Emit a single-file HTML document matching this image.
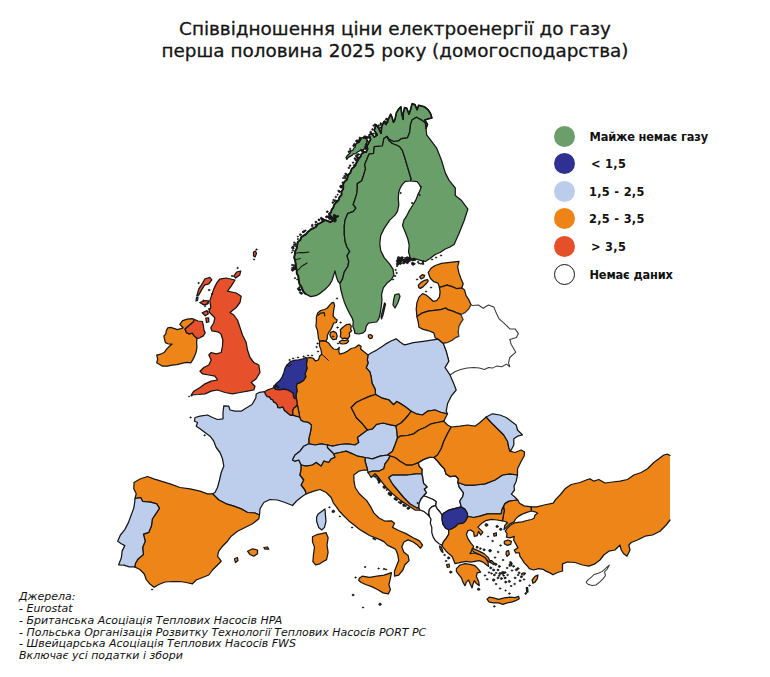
<!DOCTYPE html>
<html lang="uk">
<head>
<meta charset="utf-8">
<title>Співвідношення ціни електроенергії до газу</title>
<style>
html,body{margin:0;padding:0;background:#fff;}
body{width:770px;height:677px;position:relative;overflow:hidden;font-family:"DejaVu Sans","Liberation Sans",sans-serif;color:#111;}
#title{position:absolute;left:0;top:18px;-webkit-text-stroke:.3px #151515;width:790px;text-align:center;font-size:18.4px;line-height:22px;letter-spacing:0px;white-space:nowrap;color:#151515;}
#map{position:absolute;left:0;top:0;width:770px;height:677px;}
.lg{position:absolute;left:589.5px;margin-top:.6px;font-weight:bold;font-size:11.4px;letter-spacing:-.16px;line-height:14px;white-space:nowrap;color:#111;}
.dot{position:absolute;left:554px;width:21px;height:21px;border-radius:50%;box-sizing:border-box;}
#src{position:absolute;left:19px;top:591.3px;font-style:italic;font-size:10.97px;line-height:11.8px;white-space:nowrap;color:#111;}
</style>
</head>
<body>
<svg id="map" viewBox="0 0 770 677">
<!--MAP-->
<g stroke="#161616" stroke-width="1.25" stroke-linejoin="round" stroke-linecap="round">
<polygon points="670,455.5 667.5,454.2 663.8,455 658.8,458.8 653.8,462.5 647.5,468.8 641.2,472.5 633.8,475 627.5,479.5 620,481.2 612.5,482 605,483 598.8,479.5 593.8,481.2 590,478.8 587.5,479.5 580,482.5 571.2,484.5 565,488.8 560.5,494.5 555.9,499.1 553.2,503.2 544.1,505 536.8,506.8 531.4,506.8 531.4,511 535,511.8 537.7,513.2 535,515 534.1,518.2 531.4,519.5 526.8,520.5 522.3,521.8 517.7,522.3 514.8,522.8 510.3,525.3 506.8,528.8 505.3,531.2 507.1,533.6 506.4,537.1 510,537.9 514.3,536.4 513.6,540 515.7,543.6 517.9,547.9 514.3,550 515.7,552.9 519.3,552.9 520,556.4 522.1,559.3 524.3,562.9 527.1,565.7 529.3,568.6 533.6,570 538.6,568.6 542.9,569.3 546.4,571.4 550,572.9 553,574.8 557.5,572.5 562.5,571 562.5,563.8 567.5,562 575,562.5 582.5,565 588.8,566.2 595,563.8 600,560 603.8,555 608.8,551.2 615,550 620,545 621.2,550 623.8,553.8 627,556.2 630,550 628.8,545 631.2,542.5 637.5,540 645,536.2 652.5,535 660,531.2 666.2,525 670,520" fill="#ee8519" stroke="none"/>
<polygon points="366.9,139.3 364.5,138.1 361.9,137.5 360.5,140 359.3,142.2 356.5,143.4 355.5,145.1 355.2,147.1 353.8,148.3 352.8,150.2 350.7,151.3 349.9,153.3 348.4,154.5 347,155.9 346,157.6 346.8,159.4 348.3,157.4 350.1,156.4 352.1,155.4 353.6,153.9 355.9,153.6 357.4,152 359,151.2 360.7,150.5 362.4,150.2 364.2,148.8 366.6,148.8 366.4,146.7 366.4,144.8 366.7,143 367.4,141.2" fill="#6a9f69"/>
<polygon points="386.9,136.4 389.1,139.3 393.5,141.5 398.7,140.8 401.6,138.6 407.5,137.8 409.8,131.9 410.5,124.5 412,120.1 416.4,117.2 421.6,120.1 425.3,123.1 426,128.2 427.5,124.5 424.8,120 428.5,118.8 431.9,117.9 430.5,113.5 428.2,109.8 424.5,106.8 418.6,105.3 417.1,109.8 414.9,104.6 412,103.9 410.5,109.8 409,114.2 406.8,108.3 404.6,107.6 403.1,114.2 403.1,119.4 401.6,112.7 400.9,106.8 398.7,109 396.5,112.7 395,119.4 393.5,122.3 392,117.2 390.6,114.2 388.3,119.4 386.1,124.5 383.9,121.6 381.7,126.8 381,133.4 378.7,128.2 375.8,124.5 374.3,130.5 377.3,134.9 374.3,137.1 371.4,133.4 369.1,134.9 370.6,139.3 368.4,143.7 366.9,146 367.7,148.9 366.2,151.9 363.7,152.4 361.6,153.7 360.7,156.3 359,158.3 357.2,161.4 356,163.5 355.3,165.7 353.8,167.2 351.9,168.5 351,170.9 350.2,173.1 348.2,174.8 347.5,177.6 346.6,180.1 344.4,181.8 343.2,184.1 343.3,186.6 343.2,189 341.7,191 341.5,192.1 341.5,195 339.4,197.2 338.5,200.3 336.1,202.5 334.1,204.8 333.3,207.8 331.6,209.6 331.1,212.3 329,214 330.9,216.4 332.8,218.5 335.7,217.8 338.1,216.1 335.6,216.8 334.1,218.5 333.2,220.7 330.2,222.2 327.7,220.8 325,220.1 322.6,221.6 320.3,223 317.7,224.2 316.1,226.7 313.9,228 311.4,229 309.7,230.5 307.9,231.8 306.1,234.1 303.6,235.6 301.2,237.2 300.3,240.1 297.7,242 297.2,245.1 296.7,248.4 295.2,251.3 294.8,254.4 294.2,257.5 295.2,260.7 295.7,263.8 295.9,266.9 296.7,270 296.7,273.3 298.3,276.2 298.6,279.3 299.1,282.4 299.7,284.6 301.3,286.4 302,288.5 303.3,291.5 305.4,293.9 310.7,296.6 316,295.7 320.4,293.1 324.9,289.5 329.3,285.1 331.9,280.7 333.7,275.3 335,270.9 336.4,277.1 338.1,281.5 339.9,283.3 342.6,278.9 344.3,271.8 347.9,266.5 348.8,261.2 347,255.9 349.7,251.4 347,247 345.2,241.7 344.3,234.6 344.3,225.7 345.2,219.5 347.9,213.3 353.2,211.6 355.9,208 353.2,204.5 355,199.2 356.7,193.9 357.3,189 357.3,183.6 361.8,180.7 363.8,174.5 365.5,168.9 364.7,164.4 367,159 369.1,154.1 373.6,153.3 374.3,146.7 382.4,146 383.9,138.6 386.9,136.4" fill="#6a9f69"/>
<polygon points="339.9,283.3 340.8,289.5 342.6,296.6 344.5,302.5 346.6,307.5 349.7,313.7 352.3,318.4 353.3,322 352.8,326.2 354.4,330.3 354.9,333.4 359,334 363.2,332.9 365.3,330.8 366.3,326.2 368.4,323.1 372.5,322.5 376.7,322 378.8,318.9 380.3,312.7 381.4,305.4 382,300 381.5,294.8 383.3,287.8 386.8,283.3 391.2,279.8 393.9,275.3 393,269.1 389.5,263.8 384.2,257.6 380.7,250.5 379.8,243.5 380.7,235.5 384.2,228.4 389.5,220.4 395,215.1 397.5,211.2 398.8,205 398.3,198.5 398.7,192.5 400.2,188 402.4,184.4 405.3,181.4 410.5,181 411.2,179.2 409,171.8 406.8,164.4 404.6,157 402.4,150.4 399.5,146.5 396.5,145 392.5,143.5 389,140.5 386.9,136.4 383.9,138.6 382.4,146 374.3,146.7 373.6,153.3 369.1,154.1 367,159 364.7,164.4 365.5,168.9 363.8,174.5 361.8,180.7 357.3,183.6 357.3,189 356.7,193.9 355,199.2 353.2,204.5 355.9,208 353.2,211.6 347.9,213.3 345.2,219.5 344.3,225.7 344.3,234.6 345.2,241.7 347,247 349.7,251.4 347,255.9 348.8,261.2 347.9,266.5 344.3,271.8 342.6,278.9 339.9,283.3" fill="#6a9f69"/>
<polygon points="386.9,136.4 389,140.5 392.5,143.5 396.5,145 399.5,146.5 402.4,150.4 404.6,157 406.8,164.4 409,171.8 411.2,179.2 410.5,181 417.1,181.6 421.1,187 419.8,190.9 417.8,194.9 415.8,200.2 412.5,205.5 409.2,210.9 406.5,216.2 403.9,220.2 402.5,225.5 405.2,232.1 407.8,238.7 409.2,245.4 408.5,252 409.8,256 408.8,259.5 413.8,258.3 420.5,260.3 425.2,261.5 430,258.5 435.2,254.5 440,252.5 445.3,249 450,247 454.1,244.5 459.1,233.2 464.1,220.7 467.9,209 461.6,200.6 455.3,195.5 455.3,188 449.1,180.4 445.3,172.9 441.5,160.3 436.5,147.8 431.2,140.8 426.7,134.9 426,128.2 425.3,123.1 421.6,120.1 416.4,117.2 412,120.1 410.5,124.5 409.8,131.9 407.5,137.8 401.6,138.6 398.7,140.8 393.5,141.5 389.1,139.3 386.9,136.4" fill="#6a9f69"/>
<polygon points="439.4,287.3 438,283.1 433.8,281.7 430.3,278.2 428.2,272.5 431,268.3 435.2,265.5 441.5,263.4 449.9,262.3 459,261.3 457.6,266.9 459,273.2 461.1,278.9 463.2,283.8 461.8,288 456.9,288.7 452,286.6 447.1,285.2 442.2,286.6 439.4,287.3" fill="#ee8519"/>
<polygon points="416.9,316.5 416.2,309 416.9,302.7 419,297.1 422.5,293.6 426.1,295 430.3,298.5 433.1,301.3 436.6,300.6 439.4,297.1 440.1,292.2 439.4,287.3 442.2,286.6 447.1,285.2 452,286.6 456.9,288.7 461.8,288 464.6,290.1 466.1,295.7 468.9,299.9 471,304.8 468.9,309 465.4,312.5 461.1,314.6 457.6,313.2 452.7,311.1 447.8,309.7 445.7,308 440.8,309.7 434.5,310.4 428.2,311.1 421.8,313.2 416.9,316.5" fill="#ee8519"/>
<polygon points="416.9,316.5 418.3,322.4 419,327.3 423.2,329.4 428.9,330.8 433.8,332.9 435.2,337.8 438,339.2 443.2,343.4 447.1,342.7 452,340.6 455.5,337.8 459,336.4 458.3,332.2 459,326.6 461.1,322.4 463.2,319.6 461.8,316.8 461.1,314.6 457.6,313.2 452.7,311.1 447.8,309.7 445.7,308 440.8,309.7 434.5,310.4 428.2,311.1 421.8,313.2 416.9,316.5" fill="#ee8519"/>
<polygon points="471,304.8 472.6,305.6 478.5,305 483.2,308.3 488.5,305 493.8,307 496.5,313.6 499.1,318.9 504.5,323.6 509.8,328.9 515.1,328.9 518.4,333.6 516.4,337.6 509.8,339.5 511.1,344.2 515.8,352.2 509.8,357.5 508.5,362.8 509.8,366.8 506.5,364.1 501.8,366.8 496.5,366.1 492.5,368.1 488.5,367.5 484.5,369.5 479.2,368.1 473.9,367.5 467.2,368.1 460.6,369.5 455.3,371.5 450,375 445,367.5 448.8,361.2 446.2,351.2 443.2,343.4 447.1,342.7 452,340.6 455.5,337.8 459,336.4 458.3,332.2 459,326.6 461.1,322.4 463.2,319.6 461.8,316.8 461.1,314.6 465.4,312.5 468.9,309" fill="#ffffff" stroke="#3a3a3a" stroke-width="1.05"/>
<polygon points="368,355 371.5,352.7 376.7,350.1 381.4,346.9 385,344.4 391,341 396.2,338.8 400,342 402.5,343.8 405,344.8 413.4,342.7 423.2,341.3 433.1,339.9 438,339.2 443.2,343.4 446.2,351.2 448.8,361.2 445,367.5 450,375 453.8,383.8 456.2,390 451.2,396.2 447.5,403.8 446.2,411.2 447.5,413.8 441.2,412.5 435,410 427.5,411.2 422.5,415 416.2,413.8 411.2,411.2 405,406.5 400.9,403.9 396.8,401.5 393.6,404.7 388.7,399.8 382.2,398.2 375.6,394.5 375.1,389.1 371.9,382.9 371.4,378.2 369.9,371.9 366.2,367.8 368.1,363.1 367.3,360 368,355" fill="#bdcdec"/>
<polygon points="306.6,358.4 309.7,357.3 313.3,358.4 315.4,361 318.5,359.9 319.5,356.3 321.6,354.2 321.1,350.1 319.5,345.9 319.5,341.2 322.7,340.7 325.8,341.2 328.9,343.3 331,346.4 333.6,349 337.2,349.5 339.3,347.5 338.8,351.6 339.8,354.2 343.4,353.2 347.6,351.1 351.2,348.5 355.4,347.5 358.5,344.9 361.1,346.4 360.6,349 363.7,351.6 368,355 367.3,360 368.1,363.1 366.2,367.8 369.9,371.9 371.4,378.2 371.9,382.9 375.1,389.1 375.6,394.5 370,396.2 363.8,398.8 356.2,402.5 351.2,407.5 353.8,412.5 356.2,417.5 362.5,423.8 367.5,430 362.5,433.8 357.5,437.5 358.8,442.5 355,445 347.5,443.8 340,444.5 332.5,446.2 327.5,445 321.2,443.8 315,445 308.8,443.8 308.8,438.8 310.6,431.2 311.5,425 308,422.3 303.5,421.6 300.9,420.3 299.6,417.1 299.3,414.5 298.6,411.2 298,408 297.3,405 297,402.1 296.4,398.9 296,395 297,391 296.4,386.5 297,383.6 299.9,382.6 303.5,380.5 305.8,376.9 305.2,373.4 307,368.6 306.4,364.5 307,360.4 306.6,358.4" fill="#ee8519"/>
<polygon points="306.6,358.4 305.8,357.4 302.3,359.2 298.7,359.8 294,360.4 290.5,361.5 286.9,365.1 285.1,368 284,372.2 282.2,376.9 279.8,380.5 276.3,383.4 273.9,387.5 275.6,389.4 279.5,389.8 283.4,389.1 287.3,389.8 290.5,391.4 293.1,393.3 293.4,396.3 294.4,398.5 296.4,398.9 296,395 297,391 296.4,386.5 297,383.6 299.9,382.6 303.5,380.5 305.8,376.9 305.2,373.4 307,368.6 306.4,364.5 307,360.4 306.6,358.4" fill="#2f3394"/>
<polygon points="264.5,391.7 267.8,389.8 271.7,388.5 273.9,387.5 275.6,389.4 279.5,389.8 283.4,389.1 287.3,389.8 290.5,391.4 293.1,393.3 293.4,396.3 294.4,398.5 296.4,398.9 297,402.1 297.3,405 295.7,406.7 293.8,408.3 292.8,410.6 292.8,413.2 293.1,415.1 290.5,415.4 288.6,414.1 286.6,412.2 284.3,410.6 283.4,408.3 282.7,407 280.1,408 277.8,407.6 277.2,405 275.6,402.8 273.6,402.1 272.6,399.8 270.7,399.2 269.7,397.2 267.1,396.6 265.5,394.6 264.5,391.7" fill="#e6512b"/>
<polygon points="293.1,415.1 292.8,413.2 292.8,410.6 293.8,408.3 295.7,406.7 297.3,405 298,408 298.6,411.2 299.3,414.5 299.6,417.1 297.7,416.7 295.4,416.1 293.1,415.1" fill="#ee8519"/>
<polygon points="264.5,391.7 259.7,392.3 256.2,394 255.8,398 252,404.5 245,408.8 241.2,411.2 235,411.2 230,410 228.8,406.2 223.8,405.8 223,412.5 223,418.8 217.5,419.5 212.5,417.5 207.5,415 200,416.2 195,417.5 194.5,421.2 197.5,422.5 196.2,426.2 200,428.8 205,432.5 210,436.2 213.8,441.2 216.2,447.5 220,452.5 222.5,458.8 223.8,466.2 221.2,472.5 219.5,480 217.5,487.5 215,492.5 212.5,493.8 218.8,500 226.2,503.8 233.8,506.2 241.2,508.8 247.5,512.5 255,513 259.5,515 260,508.8 263.8,502.5 270,499.5 277.5,500 285,502.5 292.5,505.5 296.5,501 302.5,496.2 306.2,493.8 305,490 301.2,485 303.8,480 300,475 301.2,468.8 301.2,465 298.8,460 295,461.2 292.5,460 295,455 300,451.2 303.8,446.2 308.8,443.8 308.8,438.8 310.6,431.2 311.5,425 308,422.3 303.5,421.6 300.9,420.3 299.6,417.1 297.7,416.7 295.4,416.1 293.1,415.1 290.5,415.4 288.6,414.1 286.6,412.2 284.3,410.6 283.4,408.3 282.7,407 280.1,408 277.8,407.6 277.2,405 275.6,402.8 273.6,402.1 272.6,399.8 270.7,399.2 269.7,397.2 267.1,396.6 265.5,394.6 264.5,391.7" fill="#bdcdec"/>
<polygon points="318.3,513.9 323.9,509.7 325,509 325.4,514.9 326,521.2 324.5,527.4 321.8,529.9 318.7,527.4 316.6,521.2 316.6,517" fill="#bdcdec"/>
<polygon points="135,498.5 136.2,493.8 133.8,488.8 134,482.5 140,479 147.5,476.5 153.8,478.8 161.2,481.2 170,483.8 180,487.5 190,488.8 200,491.2 207.5,493.8 212.5,493.8 218.8,500 226.2,503.8 233.8,506.2 241.2,508.8 247.5,512.5 255,513 259.5,515 258.8,518.8 252.5,523.8 245,527.5 237.5,531.2 231.2,536.2 227.5,541.2 222.5,546.2 218.8,551.2 217.5,556.2 221.2,561.2 217.5,565 212.5,570 208.8,575 202.5,577.5 196.2,580 192.5,583.8 186.2,582.5 180,581.5 172.5,581.5 165,582 158.8,584.5 154.1,587.3 149.6,583.7 146.1,579.3 144.3,574 139.9,569.5 134.6,566.9 135.5,563.3 138.1,558.9 143.4,554.5 142.6,547.4 145.2,541.2 143.4,534.1 148.8,532.3 151.4,526.1 152.3,519 155.9,513.7 159.4,508.4 156.7,503.9 150.5,502.2 142.6,501.3 140.8,497.7 135,498.5" fill="#ee8519"/>
<polygon points="135,498.5 140.8,497.7 142.6,501.3 150.5,502.2 156.7,503.9 159.4,508.4 155.9,513.7 152.3,519 151.4,526.1 148.8,532.3 143.4,534.1 145.2,541.2 142.6,547.4 143.4,554.5 138.1,558.9 135.5,563.3 134.6,566.9 129.3,566.9 123.9,565.1 118.6,564.8 121.3,558 122.2,550.9 124.8,545.6 121.3,543.8 117.7,541.2 120.4,535 124.8,529.6 128.4,522.6 131,515.5 133.7,508.4 134.6,503 135,498.5" fill="#bdcdec"/>
<polygon points="308.8,443.8 303.8,446.2 300,451.2 295,455 292.5,460 295,461.2 298.8,460 301.2,465 306.2,466.2 312.5,465 316.2,462.5 321.2,466.2 323.8,461.2 328.8,462.5 331.2,458.8 335,457.5 333.8,453.8 330,450 327.5,447.5 327.5,445 321.2,443.8 315,445 308.8,443.8" fill="#bdcdec"/>
<polygon points="327.5,445 332.5,446.2 340,444.5 347.5,443.8 355,445 358.8,442.5 357.5,437.5 362.5,433.8 367.5,430 372.5,428.8 376.5,424.4 383,423 389.5,424.6 396,425.8 397,432.5 397.5,438 395,445 392.5,451.2 387.5,455 380,456.2 372.5,458.8 365,457.5 357.5,456.2 352.5,453.8 346.2,451.2 340,452.5 333.8,453.8 330,450 327.5,447.5 327.5,445" fill="#bdcdec"/>
<polygon points="367.5,430 362.5,423.8 356.2,417.5 353.8,412.5 351.2,407.5 356.2,402.5 363.8,398.8 370,396.2 375.6,394.5 382.2,398.2 388.7,399.8 393.6,404.7 396.8,401.5 400.9,403.9 405,406.5 411.2,411.2 408.5,415 405,419 401,423 396,425.8 389.5,424.6 383,423 376.5,424.4 372.5,428.8 367.5,430" fill="#ee8519"/>
<polygon points="396,425.8 401,423 405,419 408.5,415 411.2,411.2 416.2,413.8 422.5,415 427.5,411.2 435,410 441.2,412.5 447.5,413.8 445,418.8 443.8,421.2 437.5,422.5 431.2,423.8 425,427.5 418.8,430 413.8,433.8 407.5,435.5 400,436.2 397.5,438 397,432.5 396,425.8" fill="#ee8519"/>
<polygon points="397.5,438 400,436.2 407.5,435.5 413.8,433.8 418.8,430 425,427.5 431.2,423.8 437.5,422.5 443.8,421.2 447.5,425 451.2,427 447.5,433.8 443.8,441.2 441.2,448.8 437.5,455 434,457.5 429.5,457.4 423.6,459.6 418.5,462.6 412.5,465 406.2,465 400,461.2 395,457.5 390,456 387.5,455 392.5,451.2 395,445 397.5,438" fill="#ee8519"/>
<polygon points="365,457.5 372.5,458.8 380,456.2 387.5,455 390,456 388.8,458.8 385,463.8 383.8,468.8 378.8,471.2 372.5,471.2 368,472.5 367.5,470 366.2,465 365,461.2 365,457.5" fill="#bdcdec"/>
<polygon points="368,472.5 372.5,471.2 378.8,471.2 383.8,468.8 385,463.8 388.8,458.8 390,456 395,457.5 400,461.2 406.2,465 412.5,465 418.5,462.6 419.2,466.2 422.2,469.2 422,474 416.2,473.8 407.5,475 398.8,475 392.5,475 388.8,477.5 392.5,483.8 397.5,490 403.8,497.5 410,503.8 416.2,507.5 418.8,507.5 420,510 415,510 407.5,505 400,500 392.5,493.8 386.2,487.5 381.2,481.2 377.5,476.2 375,473.8 371.2,477.5 368,472.5" fill="#ee8519"/>
<polygon points="418.8,507.5 416.2,507.5 410,503.8 403.8,497.5 397.5,490 392.5,483.8 388.8,477.5 392.5,475 398.8,475 407.5,475 416.2,473.8 422,474 422.9,478 423.6,483.2 427.3,486.9 424.4,489.1 426.6,492.8 423.6,495.8 420.7,499.5 419.2,503.2 418.8,507.5" fill="#bdcdec"/>
<polygon points="418.5,462.6 423.6,459.6 429.5,457.4 434,457.5 437.5,461 441.2,465.5 444.5,469 446,474 450.2,476.6 455.4,475.8 458.3,478.8 458,482.5 459.1,486.9 463.5,492.8 462.8,496.5 459.8,501 461.3,506.9 455.4,508.3 449.5,509.8 444.3,512.8 442.1,515 439.9,512 436.9,508.3 435.5,505.4 436.2,501.7 433.2,499.5 429.5,498 425.8,496.5 423.6,495.8 426.6,492.8 424.4,489.1 427.3,486.9 423.6,483.2 422.9,478 422,474 422.2,469.2 419.2,466.2 418.5,462.6" fill="#ffffff"/>
<polygon points="418.8,507.5 419.2,503.2 420.7,499.5 423.6,495.8 425.8,496.5 429.5,498 433.2,499.5 436.2,501.7 435.5,505.4 431.8,506.9 429.5,509.1 428.8,512.8 429.5,516.5 427.3,514.3 423.6,511.3 420,510" fill="#ffffff"/>
<polygon points="429.5,516.5 428.8,512.8 429.5,509.1 431.8,506.9 435.5,505.4 436.9,508.3 439.9,512 442.1,515 442.1,519.4 442.8,523.9 445.8,528.3 448.7,529.8 448.7,534.2 446.5,537.9 443.6,541.6 442.1,545.3 439.1,543.8 435.5,540.8 433.2,537.1 431.8,532.7 431.8,527.5 430.3,523.1 431,519.4 429.5,516.5" fill="#ffffff"/>
<polygon points="442.1,515 444.3,512.8 449.5,509.8 455.4,508.3 461.3,506.9 465,509.1 467.2,512.8 467.9,516.5 465.7,520.9 463.5,523.1 458.3,523.9 455.4,526.8 451.7,529 448.7,529.8 445.8,528.3 442.8,523.9 442.1,519.4 442.1,515" fill="#2f3394"/>
<polygon points="461.3,506.9 459.8,501 462.8,496.5 463.5,492.8 459.1,486.9 458,482.5 465,485 475,485 485,483.8 495,480 502.5,475 510,473.8 517.5,475 516.2,481.2 514,486 514.5,490 511.4,494.1 514.5,496.8 517.7,500 513.2,500.5 508.6,501.4 505,503.6 503.6,506.4 502,509.5 501.2,513.8 495,513.8 487.5,513.8 480,516.2 473.8,517.5 467.9,516.5 467.2,512.8 465,509.1 461.3,506.9" fill="#bdcdec"/>
<polygon points="448.7,529.8 451.7,529 455.4,526.8 458.3,523.9 463.5,523.1 465.7,520.9 467.9,516.5 473.8,517.5 480,516.2 487.5,513.8 495,513.8 501.2,513.8 502,509.5 503.6,506.4 504.5,510.9 503.6,514.5 503.2,518.2 502.3,520.9 497.1,520 491.4,519.3 485.7,520.7 481.4,523.6 477.9,527.1 482.9,532.1 480.7,535 478.6,531.4 477.1,535.7 474.3,536.4 473.6,532.1 470.7,530 467.9,530.7 466.4,534.3 467.9,538.6 470.7,542.9 473.6,546.4 472.1,550 470,553.6 474.3,552.9 478.6,554.3 482.9,555.7 485.7,557.9 487.9,562.1 488.6,566.4 485.7,564.3 482.9,562.1 479.3,560.7 475,561.4 470.7,562.1 466.4,561.4 462.1,562.1 458.6,562.9 455,563.6 453.6,560 452.1,556.4 448.6,553.6 445.7,550.7 442.9,547.1 442.1,545.3 443.6,541.6 446.5,537.9 448.7,534.2 448.7,529.8" fill="#ee8519"/>
<polygon points="456.4,568.6 460,565 465,563.6 470,564.3 475,565.7 477.9,568.6 480.7,572.1 477.1,572.9 476.4,576.4 478.6,581.4 479.3,585.7 476.4,583.6 474.3,580.7 472.9,584.3 472.1,587.9 470,583.6 468.6,580 466.4,582.1 465,585.7 462.9,582.1 461.4,577.9 458.6,574.3 456.4,571.4" fill="#ee8519"/>
<polygon points="472.5,548.3 478,550.6 484,553.6 488.3,557.6 490.6,562.6 488.6,562 485.3,557.8 480,554.8 474.5,552.3 471.8,550.3" fill="#ee8519"/>
<polygon points="487.1,599.3 489.3,597.1 493.6,597.9 498.6,599.3 504.3,597.9 510,597.1 515,597.6 518.6,596.4 519.3,598.6 515.7,600.7 511.4,602.1 507.1,602.9 502.9,604.3 498.6,602.9 493.6,602.9 489.3,602.1" fill="#ee8519"/>
<polygon points="532.1,580 535,576.4 537.9,575 537.4,578.6 535,582.1 532.9,583.3" fill="#ee8519"/>
<polygon points="503.6,506.4 505,503.6 508.6,501.4 513.2,500.5 517.7,500 519.5,503.2 524.1,505.9 531.4,506.8 531.4,511 526.8,512.3 522.3,514.1 518.2,516.4 515.5,519.1 514.3,521.6 509.5,524.1 505.9,527.6 504,529.5 504.8,525.5 507.5,522.5 505,521.5 502.3,520.9 503.2,518.2 503.6,514.5 504.5,510.9 503.6,506.4" fill="#ee8519"/>
<polygon points="586.3,581.9 588.3,579.6 591.4,577.2 594.1,574.5 598.4,573.3 602.3,571.4 606.2,567.9 609.3,565.1 607.3,569 604.6,571.8 605.4,575.7 603.4,578.4 599.9,581.9 596,585 592.1,585.4 588.6,584.6 586.7,583.1" fill="#ffffff" stroke="#3a3a3a" stroke-width="1.05"/>
<polygon points="434,457.5 437.5,455 441.2,448.8 443.8,441.2 447.5,433.8 451.2,427 460,426.2 467.5,425 475,426.2 480,422.5 486.2,417 491.2,422.5 497.5,428.8 503.8,435 507.5,441.2 508.8,447.5 510,451.2 515,452.5 521.2,450 524.5,452 524.2,456 521.2,461.2 517.5,468.8 517.5,475 510,473.8 502.5,475 495,480 485,483.8 475,485 465,485 458,482.5 458.3,478.8 455.4,475.8 450.2,476.6 446,474 444.5,469 441.2,465.5 437.5,461 434,457.5" fill="#ee8519"/>
<polygon points="486.2,417 491.2,422.5 497.5,428.8 503.8,435 507.5,441.2 508.8,447.5 510,451.2 511.2,450 513.8,445 513.8,438.8 517.5,436.2 522.5,435 517.5,430 516.2,425 511.2,421.2 506.2,417.5 500,415 492.5,413.8" fill="#bdcdec"/>
<polygon points="306.2,493.8 313.8,491.2 320,489.5 326.2,492.5 331.2,497.5 333.3,502.8 336.4,506.8 339.5,511.3 343.7,515.7 348.9,520.9 354.1,525.1 359.3,529.2 364.5,532.4 369.6,535.5 374.8,537.6 380,539.6 384.2,541.9 387.3,545.1 391.4,547.1 395.6,549.2 397.7,554.4 398.7,560.6 396.6,565.8 394.5,571 394.5,576.2 398.7,575.2 402.9,570 404.9,564.8 409.1,560.6 408.1,555.5 403.9,552.3 401.8,547.1 403.9,542 408.1,539.9 413.2,542 417.4,545.1 420.5,548.2 422.6,545.1 419.5,540.9 413.2,537.8 406,533.6 398.7,530.5 392.5,527.4 394.5,523.2 391.4,520.8 385.2,521.2 379,518 373.8,512.9 370.6,506.6 366.5,500.4 359.5,494 355.2,487.5 354,481.2 353.8,475 358.8,471.2 363.8,470 367.5,470 366.2,465 365,461.2 365,457.5 357.5,456.2 352.5,453.8 346.2,451.2 340,452.5 333.8,453.8 335,457.5 331.2,458.8 328.8,462.5 323.8,461.2 321.2,466.2 316.2,462.5 312.5,465 306.2,466.2 301.2,465 301.2,468.8 300,475 303.8,480 301.2,485 305,490 306.2,493.8" fill="#ee8519"/>
<polygon points="359.2,578.3 362.3,576.2 369.6,577.3 376.9,576.2 384.2,575.2 391.4,572.7 390.4,578.3 388.9,584.5 390.4,589.7 388.3,593.9 383.1,592.9 377.9,589.7 371.7,586.6 365.5,584.5 361.3,582.5 358.8,580.4" fill="#ee8519"/>
<polygon points="312.5,536.8 316.6,534.7 321.8,533.6 326,532.6 328.1,537.8 327,545.1 328.1,552.3 326.6,559.6 322.9,561.7 319.7,563.8 315.6,564.8 312.9,561.7 313.5,554.4 314.5,547.1 312.5,541.9" fill="#ee8519"/>
<polygon points="325.8,341.2 327.3,338.6 327.3,335.5 328.9,331.9 331,329.3 332.5,326.2 333.6,323.1 336.2,322.5 337.2,319.9 335.1,318.4 333.1,315.8 333.6,310.6 334.6,305.4 333.6,302.3 332,302.8 329.9,304.9 327.3,308 324.7,309.5 320.6,310.6 317.5,313.2 316.4,317.3 316.4,321.5 315.9,326.2 317.5,330.3 318,334.5 318.5,338.6 319.5,341.2 322.7,340.7" fill="#ee8519"/>
<polygon points="330.5,332.4 333.6,331.4 336.2,332.9 337.2,336 336.2,339.2 333.1,339.7 331,337.6 329.9,335" fill="#ee8519"/>
<polygon points="340.3,329.8 342.9,327.2 346.6,324.6 349.7,324.1 351.2,326.2 350.7,329.3 351.8,330.8 349.2,332.9 349.7,336 348.1,338.6 345,338.1 342.4,338.6 340.3,336.6 340.8,333.4" fill="#ee8519"/>
<polygon points="339.3,341.8 341.9,340.2 345,340.7 347.6,339.7 348.6,341.2 346.6,343.3 343.4,344 340.3,343.6" fill="#ee8519"/>
<polygon points="368.4,335 370.5,334.5 372.5,336 372,338.1 369.9,338.6 368.4,337.1" fill="#ee8519"/>
<polygon points="395,294.5 398.8,293.8 400,296.2 398,302.5 395,308 393,305 393.8,298.8" fill="#6a9f69"/>
<polygon points="384.5,303 385.5,304 383,315 381.5,319 381,316.5 383,309" fill="#6a9f69"/>
<polygon points="418.3,285.2 421.1,282.4 424.6,280.3 427.5,279.6 428.2,281 426.1,283.8 423.2,286.6 420.4,288.4 418.8,287.6" fill="#ee8519"/>
<polygon points="419.7,276.8 422.5,274.6 424.6,275.4 423.9,277.5 421.1,278.9" fill="#ee8519"/>
<polygon points="221.2,278.8 226.2,278 235,280 231.2,286.2 227.5,291.2 236.2,293 241.2,296.2 240,302.5 236.2,307.5 230,312.5 233.8,315 237.5,320 240,327.5 242.5,335 246.2,342.5 247.5,350 250,357.5 253.8,362.5 258.8,365 260,372.5 256.2,378.8 251.2,382.5 255,386.2 253.8,390 247.5,391.2 240,392.5 232.5,393.8 225,392.5 217.5,390 211.2,391.2 205,393.8 198.8,394.5 191.2,395 193.8,391.2 200,387.5 205,383.8 211.2,381.2 217.5,380 215,376.2 208.8,375 202.5,373.8 200,371.2 203.8,367.5 208.8,365 211.2,360 208.8,355 211.2,352.5 216.2,353.8 221.2,352.5 222.5,346.2 222.8,339.7 220.8,333.8 217.8,331.8 211.8,330.8 210.8,327.8 213.8,322.8 214.8,317.8 211.8,314.8 208.8,311.8 210.8,306.9 209.8,300.9 211.8,294.9 213.8,288.9 216.8,282.9 219.8,279" fill="#e6512b"/>
<polygon points="209.8,277.4 211.8,279.9 208.8,283.9 204.8,284.9 202.2,288.9 198.8,294.9 196.8,295.9 198.8,288.9 202.8,282.9 204.8,279" fill="#e6512b"/>
<polygon points="196.5,297.5 198,297 197.5,300.5 196,301" fill="#e6512b"/>
<polygon points="199.8,302.5 204.8,300.5 208.6,300.9 207.8,303.9 203.8,304.9" fill="#e6512b"/>
<polygon points="202.2,312.8 207,310.6 208.3,313.8 205.3,315.8" fill="#e6512b"/>
<polygon points="205.8,318 208.6,317.8 208.8,321.8 206.5,322.3" fill="#e6512b"/>
<polygon points="233.7,276 236.7,272 240.7,271 239.7,275 235.7,278" fill="#e6512b"/>
<polygon points="253.5,252 255.5,251 256.5,253.5 255,257 253.5,256" fill="#e6512b"/>
<polygon points="193.2,322 190.3,324.4 187,327.3 185,329.2 186.5,332.6 189.4,334 192.2,333 194.2,335.9 197,338.3 196.6,342.6 197,347.4 196.1,352.2 194.6,356.1 192.7,359.9 190.8,362.8 186.5,362.3 181.7,363.3 176.9,364.7 172.1,365.2 167.3,366.2 162.5,366.2 160.1,364.7 156.7,362.8 157.7,359 156.7,355.1 160.6,354.2 164.4,352.2 166.8,348.9 169.2,346.5 172.1,344.1 168,343.8 165.4,342.6 164.4,338.8 163.9,335.9 165.8,334 166.3,330.6 167.8,327.8 170.6,327.3 174.5,328.7 177.4,329.7 180.7,328.7 183.1,327.8 181.2,325.8 179.8,324.4 182.6,320.6 187.4,319.1 192.2,318.6 194.5,319.5 193.2,322" fill="#ee8519"/>
<polygon points="197,338.3 194.2,335.9 192.2,333 189.4,334 186.5,332.6 185,329.2 187,327.3 190.3,324.4 193.2,322 194.5,319.5 198,321 202.3,321.5 203.3,325.4 203.8,329.2 205.2,333 203.3,335.9 199.9,337.8" fill="#e6512b"/>
<polygon points="504.3,541.4 507.9,540 511.4,541.4 510.7,544.3 507.1,545.3 504.3,543.6" fill="#ee8519"/>
<polygon points="506.4,551.4 508.6,550.7 509.3,554.3 507.1,556.4 506,553.9" fill="#ee8519"/>
<polygon points="509.3,564.3 512.1,563.3 511.4,565.7 509.3,566.1" fill="#ee8519"/>
<polygon points="493.6,533.6 496.4,532.9 496.4,535.7 494,536.1" fill="#ee8519"/>
<polygon points="439.5,546 441,546.5 442.5,550 443,552.5 441.5,551.5 440,548.5" fill="#ee8519"/>
<polygon points="446.5,564.5 449,564 449.5,567 447.5,567.5" fill="#ee8519"/>
<polygon points="489.8,560.5 491.5,560.5 494.5,563.5 493.5,564.5 491,562.8" fill="#ee8519"/>
<polygon points="526.3,587.5 527.6,587.5 528,592 526.8,592.3" fill="#ee8519"/>
<polygon points="521.5,573.8 523.5,572.8 525.5,573.3 524,574.8 522,575" fill="#ee8519"/>
<polygon points="247.5,551.2 252.5,548.8 257.5,550 257.5,553.8 253.8,556.2 250,554.5" fill="#ee8519"/>
<polygon points="263.8,547.5 267.5,547 268.8,549.2 265,549.2" fill="#ee8519"/>
<polygon points="234.5,558.8 237.5,557.5 238,560.5 235.5,562.5" fill="#ee8519"/>
<polyline points="670,455.5 667.5,454.2 663.8,455 658.8,458.8 653.8,462.5 647.5,468.8 641.2,472.5 633.8,475 627.5,479.5 620,481.2 612.5,482 605,483 598.8,479.5 593.8,481.2 590,478.8 587.5,479.5 580,482.5 571.2,484.5 565,488.8 560.5,494.5 555.9,499.1 553.2,503.2 544.1,505 536.8,506.8 531.4,506.8 531.4,511 535,511.8 537.7,513.2 535,515 534.1,518.2 531.4,519.5 526.8,520.5 522.3,521.8 517.7,522.3 514.8,522.8 510.3,525.3 506.8,528.8 505.3,531.2 507.1,533.6 506.4,537.1 510,537.9 514.3,536.4 513.6,540 515.7,543.6 517.9,547.9 514.3,550 515.7,552.9 519.3,552.9 520,556.4 522.1,559.3 524.3,562.9 527.1,565.7 529.3,568.6 533.6,570 538.6,568.6 542.9,569.3 546.4,571.4 550,572.9 553,574.8 557.5,572.5 562.5,571 562.5,563.8 567.5,562 575,562.5 582.5,565 588.8,566.2 595,563.8 600,560 603.8,555 608.8,551.2 615,550 620,545 621.2,550 623.8,553.8 627,556.2 630,550 628.8,545 631.2,542.5 637.5,540 645,536.2 652.5,535 660,531.2 666.2,525 670,520" fill="none"/>
<circle cx="486.4" cy="525" r="1.485" fill="#222" stroke-width="0.6"/>
<circle cx="497.1" cy="526.4" r="1.215" fill="#222" stroke-width="0.6"/>
<circle cx="500.7" cy="529.3" r="1.215" fill="#222" stroke-width="0.6"/>
<circle cx="490" cy="550.7" r="1.35" fill="#222" stroke-width="0.6"/>
<circle cx="495.7" cy="564.3" r="1.215" fill="#222" stroke-width="0.6"/>
<circle cx="499.3" cy="566.4" r="1.08" fill="#222" stroke-width="0.6"/>
<circle cx="490.7" cy="567.9" r="1.08" fill="#222" stroke-width="0.6"/>
<circle cx="493.6" cy="570" r="1.08" fill="#222" stroke-width="0.6"/>
<circle cx="497.9" cy="570" r="0.945" fill="#222" stroke-width="0.6"/>
<circle cx="502.9" cy="572.9" r="1.62" fill="#222" stroke-width="0.6"/>
<circle cx="500" cy="573.6" r="1.215" fill="#222" stroke-width="0.6"/>
<circle cx="505" cy="572.5" r="0.945" fill="#222" stroke-width="0.6"/>
<circle cx="494.3" cy="575" r="0.945" fill="#222" stroke-width="0.6"/>
<circle cx="493.6" cy="580" r="1.215" fill="#222" stroke-width="0.6"/>
<circle cx="497.9" cy="577.9" r="0.945" fill="#222" stroke-width="0.6"/>
<circle cx="501.4" cy="578.6" r="1.08" fill="#222" stroke-width="0.6"/>
<circle cx="505" cy="577.9" r="1.08" fill="#222" stroke-width="0.6"/>
<circle cx="505.7" cy="582.1" r="1.08" fill="#222" stroke-width="0.6"/>
<circle cx="509.3" cy="581.4" r="1.08" fill="#222" stroke-width="0.6"/>
<circle cx="515" cy="577.9" r="0.945" fill="#222" stroke-width="0.6"/>
<circle cx="517.9" cy="568.6" r="1.08" fill="#222" stroke-width="0.6"/>
<circle cx="520" cy="580.7" r="0.945" fill="#222" stroke-width="0.6"/>
<circle cx="525.7" cy="593.5" r="0.945" fill="#222" stroke-width="0.6"/>
<circle cx="509.3" cy="593.6" r="0.81" fill="#222" stroke-width="0.6"/>
<circle cx="487.1" cy="579.3" r="0.81" fill="#222" stroke-width="0.6"/>
<circle cx="478.6" cy="589.3" r="1.215" fill="#222" stroke-width="0.6"/>
<circle cx="494.3" cy="606.4" r="0.81" fill="#222" stroke-width="0.6"/>
<circle cx="499" cy="575.8" r="0.81" fill="#222" stroke-width="0.6"/>
<circle cx="503.5" cy="575.5" r="0.81" fill="#222" stroke-width="0.6"/>
<circle cx="496" cy="573" r="0.81" fill="#222" stroke-width="0.6"/>
<circle cx="491.5" cy="573.5" r="0.81" fill="#222" stroke-width="0.6"/>
<circle cx="507.5" cy="575" r="0.81" fill="#222" stroke-width="0.6"/>
<circle cx="512" cy="570.5" r="0.81" fill="#222" stroke-width="0.6"/>
<circle cx="514.5" cy="584" r="0.81" fill="#222" stroke-width="0.6"/>
<circle cx="518" cy="575" r="0.81" fill="#222" stroke-width="0.6"/>
<circle cx="448.6" cy="557.9" r="1.215" fill="#222" stroke-width="0.6"/>
<circle cx="450.7" cy="572.1" r="1.215" fill="#222" stroke-width="0.6"/>
<circle cx="444.5" cy="555" r="0.81" fill="#222" stroke-width="0.6"/>
<circle cx="446" cy="561" r="0.81" fill="#222" stroke-width="0.6"/>
<circle cx="380" cy="604.3" r="1.215" fill="#222" stroke-width="0.6"/>
<circle cx="353" cy="595" r="0.945" fill="#222" stroke-width="0.6"/>
<circle cx="333.3" cy="511.4" r="1.35" fill="#222" stroke-width="0.6"/>
<circle cx="329.3" cy="507.3" r="0.675" fill="#222" stroke-width="0.6"/>
<circle cx="339.8" cy="516.4" r="0.675" fill="#222" stroke-width="0.6"/>
<circle cx="352" cy="527.5" r="0.675" fill="#222" stroke-width="0.6"/>
<circle cx="373.5" cy="538.5" r="0.81" fill="#222" stroke-width="0.6"/>
<circle cx="375" cy="539.5" r="0.675" fill="#222" stroke-width="0.6"/>
<circle cx="365" cy="567" r="0.675" fill="#222" stroke-width="0.6"/>
<circle cx="378.5" cy="568.5" r="0.675" fill="#222" stroke-width="0.6"/>
<circle cx="384" cy="569" r="0.81" fill="#222" stroke-width="0.6"/>
<circle cx="386" cy="569.5" r="0.675" fill="#222" stroke-width="0.6"/>
<circle cx="355.5" cy="577.5" r="0.675" fill="#222" stroke-width="0.6"/>
<circle cx="363" cy="607.5" r="0.675" fill="#222" stroke-width="0.6"/>
<circle cx="417.5" cy="503" r="0.675" fill="#222" stroke-width="0.6"/>
<circle cx="330.1" cy="217.8" r="1.0395" fill="#222" stroke-width="0.6"/>
<circle cx="294.8" cy="267.9" r="0.5535" fill="#222" stroke-width="0.6"/>
<circle cx="294" cy="265.7" r="1.08" fill="#222" stroke-width="0.6"/>
<circle cx="293.3" cy="267.6" r="0.756" fill="#222" stroke-width="0.6"/>
<circle cx="341.4" cy="187.1" r="1.0395" fill="#222" stroke-width="0.6"/>
<circle cx="302.7" cy="232.1" r="0.5805" fill="#222" stroke-width="0.6"/>
<circle cx="357.8" cy="158.6" r="1.0125" fill="#222" stroke-width="0.6"/>
<circle cx="292.2" cy="268.1" r="0.756" fill="#222" stroke-width="0.6"/>
<circle cx="293.2" cy="246.6" r="0.783" fill="#222" stroke-width="0.6"/>
<circle cx="342.1" cy="185.6" r="0.6075" fill="#222" stroke-width="0.6"/>
<circle cx="332.8" cy="202.6" r="0.9585" fill="#222" stroke-width="0.6"/>
<circle cx="329.2" cy="217.9" r="0.8505" fill="#222" stroke-width="0.6"/>
<circle cx="301.5" cy="293.4" r="1.026" fill="#222" stroke-width="0.6"/>
<circle cx="356.1" cy="155.9" r="0.9045" fill="#222" stroke-width="0.6"/>
<circle cx="339.6" cy="191.6" r="0.837" fill="#222" stroke-width="0.6"/>
<circle cx="347" cy="175.4" r="0.9855" fill="#222" stroke-width="0.6"/>
<circle cx="335.8" cy="216.5" r="0.999" fill="#222" stroke-width="0.6"/>
<circle cx="292.1" cy="264.9" r="0.756" fill="#222" stroke-width="0.6"/>
<circle cx="340.9" cy="185.9" r="0.7695" fill="#222" stroke-width="0.6"/>
<circle cx="345" cy="176.2" r="0.567" fill="#222" stroke-width="0.6"/>
<circle cx="315.5" cy="221.9" r="0.6885" fill="#222" stroke-width="0.6"/>
<circle cx="331.1" cy="219.8" r="0.5805" fill="#222" stroke-width="0.6"/>
<circle cx="300.4" cy="289.8" r="0.756" fill="#222" stroke-width="0.6"/>
<circle cx="334.2" cy="219.3" r="1.0125" fill="#222" stroke-width="0.6"/>
<circle cx="322.4" cy="220" r="0.999" fill="#222" stroke-width="0.6"/>
<circle cx="304.2" cy="231.4" r="0.891" fill="#222" stroke-width="0.6"/>
<circle cx="345.5" cy="173.8" r="0.81" fill="#222" stroke-width="0.6"/>
<circle cx="293" cy="248.2" r="1.0395" fill="#222" stroke-width="0.6"/>
<circle cx="293" cy="250.5" r="0.837" fill="#222" stroke-width="0.6"/>
<circle cx="360.9" cy="149.9" r="0.7155" fill="#222" stroke-width="0.6"/>
<circle cx="303.3" cy="231.7" r="0.567" fill="#222" stroke-width="0.6"/>
<circle cx="316.3" cy="222.2" r="0.729" fill="#222" stroke-width="0.6"/>
<circle cx="333.8" cy="218.8" r="0.567" fill="#222" stroke-width="0.6"/>
<circle cx="357.9" cy="157.4" r="0.783" fill="#222" stroke-width="0.6"/>
<circle cx="323.2" cy="219.4" r="0.945" fill="#222" stroke-width="0.6"/>
<circle cx="335.4" cy="219.9" r="0.9585" fill="#222" stroke-width="0.6"/>
<circle cx="356.7" cy="156.9" r="0.6075" fill="#222" stroke-width="0.6"/>
<circle cx="294.9" cy="278.1" r="0.675" fill="#222" stroke-width="0.6"/>
<circle cx="337.5" cy="194.7" r="0.594" fill="#222" stroke-width="0.6"/>
<circle cx="319" cy="220.2" r="0.6615" fill="#222" stroke-width="0.6"/>
<circle cx="338.4" cy="190.8" r="0.6615" fill="#222" stroke-width="0.6"/>
<circle cx="291.8" cy="252.6" r="0.5535" fill="#222" stroke-width="0.6"/>
<circle cx="335.7" cy="197" r="0.8505" fill="#222" stroke-width="0.6"/>
<circle cx="333.8" cy="215.2" r="0.5805" fill="#222" stroke-width="0.6"/>
<circle cx="312.1" cy="226.1" r="0.8235" fill="#222" stroke-width="0.6"/>
<circle cx="333.7" cy="216.2" r="0.702" fill="#222" stroke-width="0.6"/>
<circle cx="297.8" cy="239" r="0.648" fill="#222" stroke-width="0.6"/>
<circle cx="292.6" cy="270.2" r="1.0665" fill="#222" stroke-width="0.6"/>
<circle cx="292.4" cy="247.5" r="0.9315" fill="#222" stroke-width="0.6"/>
<circle cx="354.9" cy="158.5" r="0.9045" fill="#222" stroke-width="0.6"/>
<circle cx="299.1" cy="289.5" r="1.026" fill="#222" stroke-width="0.6"/>
<circle cx="350.1" cy="165.3" r="0.6075" fill="#222" stroke-width="0.6"/>
<circle cx="326.4" cy="216.9" r="0.918" fill="#222" stroke-width="0.6"/>
<circle cx="333.5" cy="200" r="0.8505" fill="#222" stroke-width="0.6"/>
<circle cx="363.4" cy="151.6" r="0.81" fill="#222" stroke-width="0.6"/>
<circle cx="329.5" cy="218.8" r="0.7695" fill="#222" stroke-width="0.6"/>
<circle cx="345.1" cy="178.1" r="0.999" fill="#222" stroke-width="0.6"/>
<circle cx="295" cy="269" r="0.6615" fill="#222" stroke-width="0.6"/>
<circle cx="343.1" cy="178" r="0.6345" fill="#222" stroke-width="0.6"/>
<circle cx="331.2" cy="218.2" r="0.9855" fill="#222" stroke-width="0.6"/>
<circle cx="362.8" cy="150.4" r="0.756" fill="#222" stroke-width="0.6"/>
<circle cx="334.7" cy="215.2" r="0.8235" fill="#222" stroke-width="0.6"/>
<circle cx="353.2" cy="162.4" r="0.54" fill="#222" stroke-width="0.6"/>
<circle cx="354.9" cy="164.5" r="0.567" fill="#222" stroke-width="0.6"/>
<circle cx="292.8" cy="270.4" r="0.5805" fill="#222" stroke-width="0.6"/>
<circle cx="297.1" cy="279.5" r="0.5805" fill="#222" stroke-width="0.6"/>
<circle cx="303.3" cy="231.9" r="0.729" fill="#222" stroke-width="0.6"/>
<circle cx="334.4" cy="201.3" r="0.6075" fill="#222" stroke-width="0.6"/>
<circle cx="362" cy="151.4" r="0.5805" fill="#222" stroke-width="0.6"/>
<circle cx="339.2" cy="191.5" r="0.891" fill="#222" stroke-width="0.6"/>
<circle cx="300.2" cy="292.6" r="0.8775" fill="#222" stroke-width="0.6"/>
<circle cx="294.3" cy="244.7" r="0.945" fill="#222" stroke-width="0.6"/>
<circle cx="321.3" cy="218.7" r="0.783" fill="#222" stroke-width="0.6"/>
<circle cx="328.5" cy="216.4" r="0.864" fill="#222" stroke-width="0.6"/>
<circle cx="295.5" cy="246.1" r="0.5535" fill="#222" stroke-width="0.6"/>
<circle cx="321.2" cy="218.1" r="0.972" fill="#222" stroke-width="0.6"/>
<circle cx="334.8" cy="221.2" r="1.053" fill="#222" stroke-width="0.6"/>
<circle cx="298.3" cy="288.6" r="0.9315" fill="#222" stroke-width="0.6"/>
<circle cx="299.7" cy="290.8" r="0.54" fill="#222" stroke-width="0.6"/>
<circle cx="340.7" cy="186.9" r="0.8235" fill="#222" stroke-width="0.6"/>
<circle cx="346.8" cy="174.9" r="0.9855" fill="#222" stroke-width="0.6"/>
<circle cx="315.7" cy="224.8" r="0.999" fill="#222" stroke-width="0.6"/>
<circle cx="292.3" cy="269.6" r="0.8505" fill="#222" stroke-width="0.6"/>
<circle cx="348.8" cy="167.9" r="0.81" fill="#222" stroke-width="0.6"/>
<circle cx="327" cy="216.8" r="1.0395" fill="#222" stroke-width="0.6"/>
<circle cx="352.9" cy="162.7" r="0.6345" fill="#222" stroke-width="0.6"/>
<circle cx="353.8" cy="165.3" r="0.675" fill="#222" stroke-width="0.6"/>
<circle cx="300.4" cy="234.7" r="1.053" fill="#222" stroke-width="0.6"/>
<circle cx="295.4" cy="244" r="0.6615" fill="#222" stroke-width="0.6"/>
<circle cx="294.2" cy="242.5" r="0.7695" fill="#222" stroke-width="0.6"/>
<circle cx="299.4" cy="287.3" r="0.756" fill="#222" stroke-width="0.6"/>
<circle cx="340.5" cy="186.4" r="0.7965" fill="#222" stroke-width="0.6"/>
<circle cx="298.9" cy="289.4" r="0.999" fill="#222" stroke-width="0.6"/>
<circle cx="342.7" cy="182.7" r="0.8505" fill="#222" stroke-width="0.6"/>
<circle cx="318.8" cy="219.7" r="0.837" fill="#222" stroke-width="0.6"/>
<circle cx="330" cy="218.3" r="0.864" fill="#222" stroke-width="0.6"/>
<circle cx="332.4" cy="219" r="0.6885" fill="#222" stroke-width="0.6"/>
<circle cx="305.3" cy="230.4" r="0.675" fill="#222" stroke-width="0.6"/>
<circle cx="294.7" cy="268.8" r="1.08" fill="#222" stroke-width="0.6"/>
<circle cx="294.4" cy="268.4" r="0.8505" fill="#222" stroke-width="0.6"/>
<circle cx="357.7" cy="154.7" r="0.999" fill="#222" stroke-width="0.6"/>
<circle cx="297.8" cy="236.6" r="0.567" fill="#222" stroke-width="0.6"/>
<circle cx="327.2" cy="211.7" r="0.9585" fill="#222" stroke-width="0.6"/>
<circle cx="349.9" cy="165.9" r="0.675" fill="#222" stroke-width="0.6"/>
<circle cx="335.8" cy="200.6" r="0.8775" fill="#222" stroke-width="0.6"/>
<circle cx="355.9" cy="160" r="1.0125" fill="#222" stroke-width="0.6"/>
<circle cx="323.3" cy="219.6" r="0.972" fill="#222" stroke-width="0.6"/>
<circle cx="344.3" cy="176.1" r="0.702" fill="#222" stroke-width="0.6"/>
<circle cx="312.2" cy="224.9" r="0.7155" fill="#222" stroke-width="0.6"/>
<circle cx="358.8" cy="154.4" r="0.7965" fill="#222" stroke-width="0.6"/>
<circle cx="399" cy="259.5" r="0.945" fill="#222" stroke-width="0.6"/>
<circle cx="401" cy="261.5" r="0.81" fill="#222" stroke-width="0.6"/>
<circle cx="403" cy="260" r="0.945" fill="#222" stroke-width="0.6"/>
<circle cx="404.5" cy="262.5" r="0.81" fill="#222" stroke-width="0.6"/>
<circle cx="406" cy="260.5" r="0.945" fill="#222" stroke-width="0.6"/>
<circle cx="407.5" cy="262.8" r="0.81" fill="#222" stroke-width="0.6"/>
<circle cx="400.5" cy="263.5" r="0.675" fill="#222" stroke-width="0.6"/>
<circle cx="397.5" cy="261.5" r="0.81" fill="#222" stroke-width="0.6"/>
<circle cx="402.5" cy="257.5" r="0.675" fill="#222" stroke-width="0.6"/>
<circle cx="405" cy="258" r="0.675" fill="#222" stroke-width="0.6"/>
<circle cx="409.5" cy="261" r="0.675" fill="#222" stroke-width="0.6"/>
<circle cx="411.5" cy="259.8" r="0.675" fill="#222" stroke-width="0.6"/>
<circle cx="414" cy="260.2" r="0.675" fill="#222" stroke-width="0.6"/>
<circle cx="418" cy="262" r="0.675" fill="#222" stroke-width="0.6"/>
<circle cx="423" cy="264" r="0.675" fill="#222" stroke-width="0.6"/>
<circle cx="432" cy="259.5" r="0.675" fill="#222" stroke-width="0.6"/>
<circle cx="436" cy="257.5" r="0.675" fill="#222" stroke-width="0.6"/>
<circle cx="441" cy="255.5" r="0.675" fill="#222" stroke-width="0.6"/>
<circle cx="395.5" cy="270" r="0.675" fill="#222" stroke-width="0.6"/>
<circle cx="396.5" cy="273" r="0.675" fill="#222" stroke-width="0.6"/>
<circle cx="395" cy="276" r="0.675" fill="#222" stroke-width="0.6"/>
<circle cx="393" cy="279.5" r="0.675" fill="#222" stroke-width="0.6"/>
<circle cx="397" cy="266" r="0.675" fill="#222" stroke-width="0.6"/>
<circle cx="412" cy="203" r="0.675" fill="#222" stroke-width="0.6"/>
<circle cx="420.5" cy="186.5" r="0.675" fill="#222" stroke-width="0.6"/>
<circle cx="419.5" cy="195" r="0.675" fill="#222" stroke-width="0.6"/>
<circle cx="400.5" cy="193" r="0.675" fill="#222" stroke-width="0.6"/>
<circle cx="209" cy="290" r="0.81" fill="#222" stroke-width="0.6"/>
<circle cx="207.5" cy="303" r="0.81" fill="#222" stroke-width="0.6"/>
<circle cx="205" cy="306" r="0.675" fill="#222" stroke-width="0.6"/>
<circle cx="209" cy="309" r="0.675" fill="#222" stroke-width="0.6"/>
<circle cx="203.5" cy="300.5" r="0.675" fill="#222" stroke-width="0.6"/>
<circle cx="212" cy="294" r="0.675" fill="#222" stroke-width="0.6"/>
<circle cx="198.5" cy="283" r="0.675" fill="#222" stroke-width="0.6"/>
<circle cx="232" cy="276" r="0.675" fill="#222" stroke-width="0.6"/>
<circle cx="237.5" cy="268" r="0.675" fill="#222" stroke-width="0.6"/>
<circle cx="254" cy="259.5" r="0.675" fill="#222" stroke-width="0.6"/>
<circle cx="256.5" cy="249.5" r="0.675" fill="#222" stroke-width="0.6"/>
<circle cx="333" cy="336.5" r="0.675" fill="#222" stroke-width="0.6"/>
<circle cx="337.5" cy="327.5" r="0.81" fill="#222" stroke-width="0.6"/>
<circle cx="340.5" cy="322.5" r="0.675" fill="#222" stroke-width="0.6"/>
<circle cx="338" cy="343.5" r="0.675" fill="#222" stroke-width="0.6"/>
<circle cx="337" cy="298.5" r="0.675" fill="#222" stroke-width="0.6"/>
<circle cx="317.5" cy="343.5" r="0.675" fill="#222" stroke-width="0.6"/>
<circle cx="316.5" cy="347" r="0.675" fill="#222" stroke-width="0.6"/>
<circle cx="318" cy="351.5" r="0.675" fill="#222" stroke-width="0.6"/>
<circle cx="312" cy="355.5" r="0.675" fill="#222" stroke-width="0.6"/>
<circle cx="308" cy="355.5" r="0.675" fill="#222" stroke-width="0.6"/>
<circle cx="303.5" cy="356.5" r="0.675" fill="#222" stroke-width="0.6"/>
<circle cx="298" cy="357.5" r="0.675" fill="#222" stroke-width="0.6"/>
<circle cx="293" cy="358.5" r="0.675" fill="#222" stroke-width="0.6"/>
<circle cx="289.5" cy="360" r="0.675" fill="#222" stroke-width="0.6"/>
<circle cx="426" cy="291.5" r="0.675" fill="#222" stroke-width="0.6"/>
<circle cx="431" cy="287.5" r="0.675" fill="#222" stroke-width="0.6"/>
<circle cx="417" cy="279.5" r="0.675" fill="#222" stroke-width="0.6"/>
<circle cx="152" cy="589.5" r="0.675" fill="#222" stroke-width="0.6"/>
<circle cx="191.5" cy="395.5" r="0.675" fill="#222" stroke-width="0.6"/>
<circle cx="189" cy="396.5" r="0.54" fill="#222" stroke-width="0.6"/>
<circle cx="190.5" cy="417.4" r="0.675" fill="#222" stroke-width="0.6"/>
<circle cx="204.5" cy="435.3" r="0.675" fill="#222" stroke-width="0.6"/>
<circle cx="383.7" cy="486.9" r="0.9855" fill="#222" stroke-width="0.6"/>
<circle cx="373.9" cy="476.2" r="0.621" fill="#222" stroke-width="0.6"/>
<circle cx="386.6" cy="489.9" r="0.6345" fill="#222" stroke-width="0.6"/>
<circle cx="405.7" cy="505.9" r="0.7425" fill="#222" stroke-width="0.6"/>
<circle cx="384.6" cy="487.7" r="0.999" fill="#222" stroke-width="0.6"/>
<circle cx="389" cy="493.8" r="1.026" fill="#222" stroke-width="0.6"/>
<circle cx="401.2" cy="502.1" r="0.945" fill="#222" stroke-width="0.6"/>
<circle cx="391" cy="493.7" r="1.08" fill="#222" stroke-width="0.6"/>
<circle cx="400.3" cy="503.2" r="0.702" fill="#222" stroke-width="0.6"/>
<circle cx="403.9" cy="505.7" r="0.9045" fill="#222" stroke-width="0.6"/>
<circle cx="377.8" cy="478.8" r="1.134" fill="#222" stroke-width="0.6"/>
<circle cx="398.9" cy="502.2" r="0.7695" fill="#222" stroke-width="0.6"/>
<circle cx="395.3" cy="499.4" r="0.756" fill="#222" stroke-width="0.6"/>
<circle cx="396.5" cy="499.6" r="0.6075" fill="#222" stroke-width="0.6"/>
<circle cx="377.7" cy="478.3" r="0.7965" fill="#222" stroke-width="0.6"/>
<circle cx="395.4" cy="498.2" r="0.864" fill="#222" stroke-width="0.6"/>
<circle cx="379.4" cy="481.2" r="1.1205" fill="#222" stroke-width="0.6"/>
<circle cx="378.6" cy="480.4" r="0.9045" fill="#222" stroke-width="0.6"/>
<circle cx="388.8" cy="492.9" r="0.6075" fill="#222" stroke-width="0.6"/>
<circle cx="408.6" cy="508.1" r="1.1205" fill="#222" stroke-width="0.6"/>
<circle cx="408" cy="508.3" r="1.1205" fill="#222" stroke-width="0.6"/>
<circle cx="394.6" cy="498.7" r="0.7425" fill="#222" stroke-width="0.6"/>
<circle cx="390.3" cy="494.7" r="1.0395" fill="#222" stroke-width="0.6"/>
<circle cx="375.6" cy="476.7" r="1.134" fill="#222" stroke-width="0.6"/>
<circle cx="403.8" cy="504.9" r="1.107" fill="#222" stroke-width="0.6"/>
<circle cx="396.6" cy="499.9" r="0.6615" fill="#222" stroke-width="0.6"/>
<circle cx="379" cy="480.4" r="0.648" fill="#222" stroke-width="0.6"/>
<circle cx="401.3" cy="502.6" r="0.864" fill="#222" stroke-width="0.6"/>
<circle cx="378.9" cy="482.5" r="0.891" fill="#222" stroke-width="0.6"/>
<circle cx="390.8" cy="495.1" r="0.7965" fill="#222" stroke-width="0.6"/>
<circle cx="404.2" cy="261.1" r="1.431" fill="#222" stroke-width="0.6"/>
<circle cx="404.5" cy="260.8" r="1.2015" fill="#222" stroke-width="0.6"/>
<circle cx="400" cy="260.8" r="1.2285" fill="#222" stroke-width="0.6"/>
<circle cx="409.7" cy="258.1" r="1.0125" fill="#222" stroke-width="0.6"/>
<circle cx="398.5" cy="262.8" r="1.2825" fill="#222" stroke-width="0.6"/>
<circle cx="397.7" cy="263.9" r="1.458" fill="#222" stroke-width="0.6"/>
<circle cx="407.5" cy="261.5" r="0.918" fill="#222" stroke-width="0.6"/>
<circle cx="397.2" cy="260.9" r="0.8505" fill="#222" stroke-width="0.6"/>
<circle cx="400" cy="259.1" r="0.837" fill="#222" stroke-width="0.6"/>
<circle cx="404.4" cy="260.4" r="1.377" fill="#222" stroke-width="0.6"/>
<circle cx="405.3" cy="261.7" r="1.1475" fill="#222" stroke-width="0.6"/>
<circle cx="407.6" cy="260.5" r="0.999" fill="#222" stroke-width="0.6"/>
<circle cx="413" cy="264" r="1.377" fill="#222" stroke-width="0.6"/>
<circle cx="408.3" cy="259.5" r="0.9585" fill="#222" stroke-width="0.6"/>
<circle cx="401.6" cy="258" r="1.323" fill="#222" stroke-width="0.6"/>
<circle cx="403.4" cy="263" r="1.0665" fill="#222" stroke-width="0.6"/>
<circle cx="412.3" cy="263" r="0.81" fill="#222" stroke-width="0.6"/>
<circle cx="400.4" cy="263.4" r="1.1205" fill="#222" stroke-width="0.6"/>
<circle cx="412.7" cy="260.1" r="0.864" fill="#222" stroke-width="0.6"/>
<circle cx="407.1" cy="262.6" r="0.9855" fill="#222" stroke-width="0.6"/>
<circle cx="398.4" cy="259.7" r="1.458" fill="#222" stroke-width="0.6"/>
<circle cx="409.1" cy="258.3" r="0.972" fill="#222" stroke-width="0.6"/>
<circle cx="398.6" cy="257.9" r="1.35" fill="#222" stroke-width="0.6"/>
<circle cx="399.8" cy="261.1" r="1.107" fill="#222" stroke-width="0.6"/>
<circle cx="400.1" cy="262.3" r="0.9045" fill="#222" stroke-width="0.6"/>
<circle cx="407.3" cy="258.3" r="1.0935" fill="#222" stroke-width="0.6"/>
<circle cx="400.4" cy="259.3" r="1.4715" fill="#222" stroke-width="0.6"/>
<circle cx="409.9" cy="259.5" r="1.404" fill="#222" stroke-width="0.6"/>
<circle cx="400.4" cy="260.1" r="1.3905" fill="#222" stroke-width="0.6"/>
<circle cx="407.3" cy="258.2" r="1.4715" fill="#222" stroke-width="0.6"/>
<circle cx="400.4" cy="259.2" r="1.3365" fill="#222" stroke-width="0.6"/>
<circle cx="402.3" cy="259.4" r="0.864" fill="#222" stroke-width="0.6"/>
<circle cx="398.4" cy="261.3" r="0.972" fill="#222" stroke-width="0.6"/>
<circle cx="406.6" cy="259.9" r="1.1205" fill="#222" stroke-width="0.6"/>
<circle cx="423.5" cy="261.4" r="0.675" fill="#222" stroke-width="0.6"/>
<circle cx="418.9" cy="263.3" r="0.675" fill="#222" stroke-width="0.6"/>
<circle cx="414.2" cy="259.8" r="0.675" fill="#222" stroke-width="0.6"/>
<circle cx="422.9" cy="263.1" r="0.675" fill="#222" stroke-width="0.6"/>
<circle cx="415" cy="259.9" r="0.675" fill="#222" stroke-width="0.6"/>
<circle cx="420.9" cy="263.7" r="0.675" fill="#222" stroke-width="0.6"/>
<circle cx="414.4" cy="263.8" r="0.675" fill="#222" stroke-width="0.6"/>
<circle cx="422.6" cy="262" r="0.675" fill="#222" stroke-width="0.6"/>
<circle cx="477" cy="547.2" r="1.08" fill="#222" stroke-width="0.6"/>
<circle cx="480.3" cy="548.6" r="0.945" fill="#222" stroke-width="0.6"/>
<circle cx="484" cy="549.8" r="1.08" fill="#222" stroke-width="0.6"/>
<circle cx="510.5" cy="562.5" r="1.08" fill="#222" stroke-width="0.6"/>
<circle cx="513.5" cy="566.3" r="0.945" fill="#222" stroke-width="0.6"/>
<circle cx="516.3" cy="569.8" r="1.08" fill="#222" stroke-width="0.6"/>
<circle cx="519" cy="572.8" r="0.945" fill="#222" stroke-width="0.6"/>
<circle cx="521.3" cy="576.8" r="1.08" fill="#222" stroke-width="0.6"/>
<circle cx="524" cy="579.5" r="0.81" fill="#222" stroke-width="0.6"/>
<circle cx="500.5" cy="545.5" r="0.81" fill="#222" stroke-width="0.6"/>
<circle cx="498" cy="552" r="0.81" fill="#222" stroke-width="0.6"/>
<circle cx="495" cy="557.5" r="0.81" fill="#222" stroke-width="0.6"/>
<circle cx="503" cy="560" r="0.81" fill="#222" stroke-width="0.6"/>
<circle cx="507" cy="568" r="0.81" fill="#222" stroke-width="0.6"/>
<circle cx="489" cy="572.5" r="0.81" fill="#222" stroke-width="0.6"/>
<circle cx="485" cy="575.5" r="0.81" fill="#222" stroke-width="0.6"/>
<circle cx="511" cy="586" r="0.81" fill="#222" stroke-width="0.6"/>
<circle cx="500" cy="588.5" r="0.81" fill="#222" stroke-width="0.6"/>
<circle cx="496" cy="584" r="0.81" fill="#222" stroke-width="0.6"/>
<circle cx="505.5" cy="590.5" r="0.675" fill="#222" stroke-width="0.6"/>
<circle cx="529.5" cy="585.5" r="0.81" fill="#222" stroke-width="0.6"/>
<circle cx="492.5" cy="541" r="0.81" fill="#222" stroke-width="0.6"/>
<circle cx="488" cy="536.5" r="0.675" fill="#222" stroke-width="0.6"/>
<circle cx="359.6" cy="138.8" r="0.6345" fill="#222" stroke-width="0.6"/>
<circle cx="366.8" cy="138" r="1.0125" fill="#222" stroke-width="0.6"/>
<circle cx="360.1" cy="139.2" r="0.7695" fill="#222" stroke-width="0.6"/>
<circle cx="354.2" cy="145.3" r="0.9315" fill="#222" stroke-width="0.6"/>
<circle cx="365" cy="136.5" r="0.8775" fill="#222" stroke-width="0.6"/>
<circle cx="350.1" cy="148.9" r="0.7155" fill="#222" stroke-width="0.6"/>
<circle cx="363.8" cy="137.4" r="0.918" fill="#222" stroke-width="0.6"/>
<circle cx="353.5" cy="145.7" r="0.8505" fill="#222" stroke-width="0.6"/>
<circle cx="358.4" cy="141.8" r="0.972" fill="#222" stroke-width="0.6"/>
<circle cx="348.8" cy="151.7" r="0.6075" fill="#222" stroke-width="0.6"/>
<circle cx="364.4" cy="137.7" r="0.8775" fill="#222" stroke-width="0.6"/>
<circle cx="358" cy="141.2" r="0.891" fill="#222" stroke-width="0.6"/>
<circle cx="354.5" cy="144.2" r="0.9585" fill="#222" stroke-width="0.6"/>
<circle cx="359.8" cy="137.7" r="0.7965" fill="#222" stroke-width="0.6"/>
<circle cx="356.4" cy="141" r="0.945" fill="#222" stroke-width="0.6"/>
<circle cx="350.2" cy="150.6" r="0.702" fill="#222" stroke-width="0.6"/>
<circle cx="357.6" cy="142.2" r="0.972" fill="#222" stroke-width="0.6"/>
<circle cx="348.8" cy="151.8" r="0.702" fill="#222" stroke-width="0.6"/>
<circle cx="365.7" cy="137.7" r="0.5535" fill="#222" stroke-width="0.6"/>
<circle cx="357.4" cy="140.8" r="0.9585" fill="#222" stroke-width="0.6"/>
<circle cx="359.4" cy="140.3" r="0.9855" fill="#222" stroke-width="0.6"/>
<circle cx="366.5" cy="136.9" r="0.6885" fill="#222" stroke-width="0.6"/>
<circle cx="375.2" cy="133.8" r="0.621" fill="#222" stroke-width="0.6"/>
<circle cx="370.6" cy="132.1" r="0.9045" fill="#222" stroke-width="0.6"/>
<circle cx="387.2" cy="122.2" r="0.8235" fill="#222" stroke-width="0.6"/>
<circle cx="367.9" cy="137.2" r="0.729" fill="#222" stroke-width="0.6"/>
<circle cx="368.9" cy="137.1" r="0.567" fill="#222" stroke-width="0.6"/>
<circle cx="380.7" cy="123.4" r="0.783" fill="#222" stroke-width="0.6"/>
<circle cx="367.3" cy="141.4" r="0.9045" fill="#222" stroke-width="0.6"/>
<circle cx="365.4" cy="147.3" r="0.837" fill="#222" stroke-width="0.6"/>
<circle cx="372.5" cy="129.4" r="0.9045" fill="#222" stroke-width="0.6"/>
<circle cx="373.4" cy="125.7" r="0.621" fill="#222" stroke-width="0.6"/>
<circle cx="365.6" cy="146.4" r="0.9045" fill="#222" stroke-width="0.6"/>
<circle cx="367.1" cy="144.5" r="0.7155" fill="#222" stroke-width="0.6"/>
<circle cx="365.3" cy="149.1" r="0.54" fill="#222" stroke-width="0.6"/>
<circle cx="367.3" cy="140.9" r="0.621" fill="#222" stroke-width="0.6"/>
<circle cx="385.6" cy="123.6" r="0.918" fill="#222" stroke-width="0.6"/>
<circle cx="376.2" cy="133.9" r="0.918" fill="#222" stroke-width="0.6"/>
<circle cx="374.8" cy="124.7" r="0.8505" fill="#222" stroke-width="0.6"/>
<circle cx="369.1" cy="137.7" r="0.783" fill="#222" stroke-width="0.6"/>
<circle cx="386.7" cy="119" r="0.783" fill="#222" stroke-width="0.6"/>
<circle cx="380.5" cy="124.7" r="0.7695" fill="#222" stroke-width="0.6"/>
<circle cx="386.3" cy="119.3" r="0.9315" fill="#222" stroke-width="0.6"/>
<circle cx="380.1" cy="127.7" r="0.837" fill="#222" stroke-width="0.6"/>
<circle cx="366" cy="144.3" r="0.8505" fill="#222" stroke-width="0.6"/>
<circle cx="384.8" cy="121.5" r="0.891" fill="#222" stroke-width="0.6"/>
<circle cx="378.4" cy="125.7" r="0.945" fill="#222" stroke-width="0.6"/>
<circle cx="373.1" cy="133.6" r="0.783" fill="#222" stroke-width="0.6"/>
<circle cx="274.6" cy="386.2" r="1.215" fill="#222" stroke-width="0.6"/>
<circle cx="276.4" cy="385.6" r="0.945" fill="#222" stroke-width="0.6"/>
<circle cx="278" cy="387.3" r="0.945" fill="#222" stroke-width="0.6"/>
<polyline points="366.2,151.9 363.7,152.4 361.6,153.7 360.7,156.3 359,158.3 357.2,161.4 356,163.5 355.3,165.7 353.8,167.2 351.9,168.5 351,170.9 350.2,173.1 348.2,174.8 347.5,177.6 346.6,180.1 344.4,181.8 343.2,184.1 343.3,186.6 343.2,189 341.7,191 341.5,192.1 341.5,195 339.4,197.2 338.5,200.3 336.1,202.5 334.1,204.8 333.3,207.8 331.6,209.6 331.1,212.3 329,214 330.9,216.4 332.8,218.5 335.7,217.8 338.1,216.1 335.6,216.8 334.1,218.5 333.2,220.7 330.2,222.2 327.7,220.8 325,220.1 322.6,221.6 320.3,223 317.7,224.2 316.1,226.7 313.9,228 311.4,229 309.7,230.5 307.9,231.8 306.1,234.1 303.6,235.6 301.2,237.2 300.3,240.1 297.7,242 297.2,245.1 296.7,248.4 295.2,251.3 294.8,254.4 294.2,257.5 295.2,260.7 295.7,263.8 295.9,266.9 296.7,270 296.7,273.3 298.3,276.2 298.6,279.3 299.1,282.4 299.7,284.6 301.3,286.4 302,288.5 303.3,291.5 305.4,293.9" fill="none" stroke-width="1.9"/>
<polyline points="426,128.2 427.5,124.5 424.8,120 428.5,118.8 431.9,117.9 430.5,113.5 428.2,109.8 424.5,106.8 418.6,105.3 417.1,109.8 414.9,104.6 412,103.9 410.5,109.8 409,114.2 406.8,108.3 404.6,107.6 403.1,114.2 403.1,119.4 401.6,112.7 400.9,106.8 398.7,109 396.5,112.7 395,119.4 393.5,122.3 392,117.2 390.6,114.2 388.3,119.4 386.1,124.5 383.9,121.6 381.7,126.8 381,133.4 378.7,128.2 375.8,124.5 374.3,130.5 377.3,134.9 374.3,137.1 371.4,133.4 369.1,134.9 370.6,139.3 368.4,143.7 366.9,146 367.7,148.9 366.2,151.9" fill="none" stroke-width="1.6"/>
<polyline points="295.6,253.3 300,252.5 304.5,252.6 308.9,252" fill="none" stroke-width="1.1"/>
<polyline points="298.3,270 302,266 307.1,263" fill="none" stroke-width="1.1"/>
<polyline points="296.5,259.5 300.5,258.5" fill="none" stroke-width="1"/>
<polyline points="318,315.3 320.6,313.2 324.2,312.7 324.7,315.8" fill="none" stroke-width="1.2"/>
<polyline points="321.6,354.2 325,357 328.4,360.5" fill="none" stroke-width="1"/>
<polyline points="286.9,365.1 289,366.5 291.5,364.5" fill="none" stroke-width="1"/>
</g>
<!--/MAP-->
</svg>
<div id="title"><span id="t1">Співвідношення ціни електроенергії до газу</span><br><span id="t2">перша половина 2025 року (домогосподарства)</span></div>

<div class="dot" style="top:126px;background:#6b9e6b"></div><div class="lg" id="l1" style="top:129px">Майже немає газу</div>
<div class="dot" style="top:153px;background:#2e3192"></div><div class="lg" id="l2" style="top:156px;left:591px;letter-spacing:.3px">&lt; 1,5</div>
<div class="dot" style="top:181px;background:#bccdeb"></div><div class="lg" id="l3" style="top:184px;left:589px;letter-spacing:.3px">1,5 - 2,5</div>
<div class="dot" style="top:208px;background:#ee8418"></div><div class="lg" id="l4" style="top:211px;left:589px;letter-spacing:.3px">2,5 - 3,5</div>
<div class="dot" style="top:236px;background:#e5502a"></div><div class="lg" id="l5" style="top:239px;left:591px;letter-spacing:.3px">&gt; 3,5</div>
<div class="dot" style="top:264px;background:#fff;border:1px solid #111"></div><div class="lg" id="l6" style="top:267px">Немає даних</div>

<div id="src">Джерела:<br>- Eurostat<br><span id="s3">- Британська Асоціація Теплових Насосів HPA</span><br><span id="s4">- Польська Організація Розвитку Технології Теплових Насосів PORT PC</span><br>- Швейцарська Асоціація Теплових Насосів FWS<br>Включає усі податки і збори</div>
</body>
</html>
